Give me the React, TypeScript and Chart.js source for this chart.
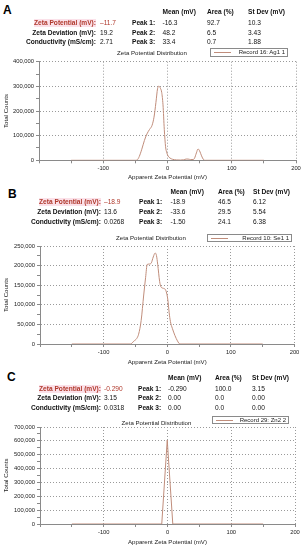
import React, { useEffect, useRef } from 'react';
import { Chart, registerables } from 'chart.js';

Chart.register(...registerables);

const FONT = '"Liberation Sans", Arial, Helvetica, sans-serif';
const LINE_COLOR = '#c08d7b';
const RED = '#b0392c';
const PINK = 'rgba(249, 205, 218, 0.6)';

// ---------- shared labels ----------
const TABLE_HEAD = ['Mean (mV)', 'Area (%)', 'St Dev (mV)'];
const ROW_LABELS = ['Zeta Potential (mV):', 'Zeta Deviation (mV):', 'Conductivity (mS/cm):'];
const PEAK_LABELS = ['Peak 1:', 'Peak 2:', 'Peak 3:'];
const CHART_TITLE = 'Zeta Potential Distribution';
const X_TITLE = 'Apparent Zeta Potential (mV)';
const Y_TITLE = 'Total Counts';
const X_MIN = -200;
const X_MAX = 200;
const X_STEP = 50;
const X_MAJOR = 100;

// ---------- panel A ----------
const A_SUMMARY = ['\u201311.7', '19.2', '2.71'];
const A_MEAN = ['-16.3', '48.2', '33.4'];
const A_AREA = ['92.7', '6.5', '0.7'];
const A_SD = ['10.3', '3.43', '1.88'];
const A_RECORD = 'Record 16: Ag1 1';
const A_MV = [-150, -50, -47, -44, -40, -36, -32, -28, -24, -21, -18, -15.5, -13.5, -11, -9, -7, -5, -3, -1, 1, 4, 8, 14, 20, 25, 29, 32, 36, 40, 42, 45, 47.5, 50, 53, 56, 59, 150];
const A_COUNTS = [0, 0, 2000, 15000, 45000, 80000, 107000, 125000, 142000, 175000, 235000, 290000, 301000, 292000, 275000, 225000, 125000, 55000, 30000, 17000, 9000, 4000, 1500, 1000, 2000, 5000, 5000, 3000, 3000, 8000, 30000, 46000, 38000, 18000, 3000, 0, 0];
const A_Y_MAX = 400000;
const A_Y_STEP = 50000;
const A_Y_MAJOR = 100000;

// ---------- panel B ----------
const B_SUMMARY = ['\u201318.9', '13.6', '0.0268'];
const B_MEAN = ['-18.9', '-33.6', '-1.50'];
const B_AREA = ['46.5', '29.5', '24.1'];
const B_SD = ['6.12', '5.54', '6.38'];
const B_RECORD = 'Record 10: Se1 1';
const B_MV = [-150, -58, -52, -48, -45, -41, -37, -34, -31.5, -28, -25, -22, -19, -17, -15, -12, -10, -6, -3, -1, 1, 3, 5, 8, 12, 16, 20, 150];
const B_COUNTS = [0, 0, 8000, 14000, 25000, 60000, 125000, 170000, 203000, 204000, 207000, 222000, 232000, 226000, 203000, 160000, 146000, 142000, 139000, 130000, 112000, 80000, 57000, 40000, 22000, 8000, 0, 0];
const B_Y_MAX = 250000;
const B_Y_STEP = 25000;
const B_Y_MAJOR = 50000;

// ---------- panel C ----------
const C_SUMMARY = ['-0.290', '3.15', '0.0318'];
const C_MEAN = ['-0.290', '0.00', '0.00'];
const C_AREA = ['100.0', '0.0', '0.0'];
const C_SD = ['3.15', '0.00', '0.00'];
const C_RECORD = 'Record 29: Zn2 2';
const C_MV = [-150, -9, -0.4, 8.3, 150];
const C_COUNTS = [0, 0, 606000, 0, 0];
const C_Y_MAX = 700000;
const C_Y_STEP = 50000;
const C_Y_MAJOR = 100000;

type Layout = {
  letter: string;
  letterX: number;
  letterY: number;
  rowY: number[];
  labelRight: number;
  valueX: number;
  peakX: number;
  colX: number[];
  titleX: number;
  titleY: number;
  legend: { x: number; y: number; w: number; h: number };
  canvasTop: number;
  canvasHeight: number;
  plotTop: number;
  plotBottom: number;
  plotLeft: number;
  plotRight: number;
  xTitlePad: number;
  smooth: boolean;
};

type PanelData = {
  summary: string[];
  mean: string[];
  area: string[];
  sd: string[];
  record: string;
  mv: number[];
  counts: number[];
  yMax: number;
  yStep: number;
  yMajor: number;
};

const LAYOUT_A: Layout = {
  letter: 'A', letterX: 3, letterY: 10,
  rowY: [11.7, 22.7, 32.5, 41.7],
  labelRight: 96, valueX: 100, peakX: 132, colX: [162.5, 207, 248],
  titleX: 152, titleY: 53,
  legend: { x: 210, y: 48, w: 78, h: 9 },
  canvasTop: 56, canvasHeight: 126,
  plotTop: 61.7, plotBottom: 160.3, plotLeft: 39, plotRight: 296,
  xTitlePad: 1.4, smooth: true,
};

const LAYOUT_B: Layout = {
  letter: 'B', letterX: 8, letterY: 194,
  rowY: [192.3, 202.3, 212.3, 221.7],
  labelRight: 101, valueX: 104, peakX: 139, colX: [170.5, 218, 253],
  titleX: 151, titleY: 238,
  legend: { x: 207, y: 233.5, w: 85, h: 8 },
  canvasTop: 240, canvasHeight: 127,
  plotTop: 246, plotBottom: 344, plotLeft: 40, plotRight: 294.5,
  xTitlePad: 1.4, smooth: true,
};

const LAYOUT_C: Layout = {
  letter: 'C', letterX: 7, letterY: 377,
  rowY: [377.7, 389, 398.3, 407.7],
  labelRight: 101, valueX: 104, peakX: 138, colX: [168, 215, 252],
  titleX: 156.5, titleY: 423,
  legend: { x: 212, y: 415.5, w: 77, h: 8 },
  canvasTop: 421, canvasHeight: 127,
  plotTop: 427, plotBottom: 524, plotLeft: 40, plotRight: 295,
  xTitlePad: 2.4, smooth: false,
};

const DATA_A: PanelData = { summary: A_SUMMARY, mean: A_MEAN, area: A_AREA, sd: A_SD, record: A_RECORD, mv: A_MV, counts: A_COUNTS, yMax: A_Y_MAX, yStep: A_Y_STEP, yMajor: A_Y_MAJOR };
const DATA_B: PanelData = { summary: B_SUMMARY, mean: B_MEAN, area: B_AREA, sd: B_SD, record: B_RECORD, mv: B_MV, counts: B_COUNTS, yMax: B_Y_MAX, yStep: B_Y_STEP, yMajor: B_Y_MAJOR };
const DATA_C: PanelData = { summary: C_SUMMARY, mean: C_MEAN, area: C_AREA, sd: C_SD, record: C_RECORD, mv: C_MV, counts: C_COUNTS, yMax: C_Y_MAX, yStep: C_Y_STEP, yMajor: C_Y_MAJOR };

const W = 306;

function Txt(props: {
  x: number; y: number; children: React.ReactNode; bold?: boolean; align?: 'left' | 'right' | 'center';
  color?: string; size?: number; bg?: string;
}) {
  const { x, y, children, bold, align = 'left', color = '#111', size = 6.6, bg } = props;
  const style: React.CSSProperties = {
    position: 'absolute',
    top: y - 4,
    lineHeight: '8px',
    height: 8,
    fontSize: size,
    fontWeight: bold ? 700 : 400,
    color,
    whiteSpace: 'nowrap',
    background: bg,
  };
  if (align === 'left') style.left = x;
  else if (align === 'right') style.right = W - x;
  else {
    style.left = x - 100;
    style.width = 200;
    style.textAlign = 'center';
  }
  return <div style={style}>{children}</div>;
}

function ZetaChart({ L, D }: { L: Layout; D: PanelData }) {
  const ref = useRef<HTMLCanvasElement>(null);
  useEffect(() => {
    const canvas = ref.current;
    if (!canvas) return;
    const tickFont = { family: FONT, size: 5.8 };
    const titleFont = { family: FONT, size: 6.1 };
    const points = D.mv.map((x, i) => ({ x, y: D.counts[i] }));
    const chart = new Chart(canvas, {
      type: 'line',
      data: {
        datasets: [
          {
            data: points,
            borderColor: LINE_COLOR,
            borderWidth: 1,
            pointRadius: 0,
            fill: false,
            tension: L.smooth ? 0.4 : 0,
            cubicInterpolationMode: L.smooth ? 'monotone' : 'default',
          } as any,
        ],
      },
      options: {
        animation: false,
        responsive: false,
        devicePixelRatio: 1,
        plugins: { legend: { display: false }, tooltip: { enabled: false }, title: { display: false } },
        layout: {
          padding: { top: L.plotTop - L.canvasTop, right: W - L.plotRight, left: 0, bottom: 0 },
        },
        scales: {
          x: {
            type: 'linear',
            min: X_MIN,
            max: X_MAX,
            afterFit: (s: any) => {
              s.height = L.canvasTop + L.canvasHeight - L.plotBottom;
            },
            ticks: {
              stepSize: X_STEP,
              autoSkip: false,
              maxRotation: 0,
              minRotation: 0,
              padding: 2,
              font: tickFont,
              color: '#222',
              callback: (v: any) => (v % X_MAJOR === 0 && v !== X_MIN ? String(v) : ''),
            },
            grid: {
              color: (c: any) =>
                c.tick && c.tick.value % X_MAJOR === 0 && c.tick.value !== X_MIN ? '#9a9a9a' : 'rgba(0,0,0,0)',
              tickColor: '#8a8a8a',
              tickLength: 3,
              lineWidth: 1,
            },
            border: { color: '#8a8a8a', width: 1, dash: [1, 2] },
            title: {
              display: true,
              text: X_TITLE,
              font: titleFont,
              color: '#222',
              padding: { top: 0, bottom: L.xTitlePad },
            },
          },
          y: {
            type: 'linear',
            min: 0,
            max: D.yMax,
            afterFit: (s: any) => {
              s.width = L.plotLeft;
            },
            ticks: {
              stepSize: D.yStep,
              autoSkip: false,
              padding: 2,
              font: tickFont,
              color: '#222',
              callback: (v: any) => (v % D.yMajor === 0 ? Number(v).toLocaleString('en-US') : ''),
            },
            grid: {
              color: (c: any) =>
                c.tick && c.tick.value % D.yMajor === 0 && c.tick.value !== 0 ? '#9a9a9a' : 'rgba(0,0,0,0)',
              tickColor: '#8a8a8a',
              tickLength: 3,
              lineWidth: 1,
            },
            border: { color: '#8a8a8a', width: 1, dash: [1, 2] },
            title: {
              display: true,
              text: Y_TITLE,
              font: titleFont,
              color: '#222',
              padding: { top: 3, bottom: 0 },
            },
          },
        },
      } as any,
    });
    return () => chart.destroy();
  }, [L, D]);
  return (
    <canvas
      ref={ref}
      width={W}
      height={L.canvasHeight}
      style={{ position: 'absolute', left: 0, top: L.canvasTop, width: W, height: L.canvasHeight }}
    />
  );
}

function Panel({ L, D }: { L: Layout; D: PanelData }) {
  return (
    <>
      <ZetaChart L={L} D={D} />
      <Txt x={L.letterX} y={L.letterY} size={12} bold color="#000">
        {L.letter}
      </Txt>
      {TABLE_HEAD.map((h, i) => (
        <Txt key={'h' + i} x={L.colX[i]} y={L.rowY[0]} bold>
          {h}
        </Txt>
      ))}
      {ROW_LABELS.map((lab, i) => (
        <Txt
          key={'l' + i}
          x={L.labelRight}
          y={L.rowY[i + 1]}
          bold
          align="right"
          color={i === 0 ? RED : '#111'}
          bg={i === 0 ? PINK : undefined}
        >
          {lab}
        </Txt>
      ))}
      {D.summary.map((v, i) => (
        <Txt key={'s' + i} x={L.valueX} y={L.rowY[i + 1]} color={i === 0 ? RED : '#111'}>
          {v}
        </Txt>
      ))}
      {PEAK_LABELS.map((p, i) => (
        <Txt key={'p' + i} x={L.peakX} y={L.rowY[i + 1]} bold>
          {p}
        </Txt>
      ))}
      {[D.mean, D.area, D.sd].map((col, c) =>
        col.map((v, i) => (
          <Txt key={'c' + c + '-' + i} x={L.colX[c]} y={L.rowY[i + 1]}>
            {v}
          </Txt>
        ))
      )}
      <Txt x={L.titleX} y={L.titleY} align="center" size={6.1} color="#222">
        {CHART_TITLE}
      </Txt>
      <div
        style={{
          position: 'absolute',
          left: L.legend.x,
          top: L.legend.y,
          width: L.legend.w,
          height: L.legend.h,
          boxSizing: 'border-box',
          border: '1px solid #8a8a8a',
          background: '#fff',
        }}
      >
        <div
          style={{
            position: 'absolute',
            left: 3,
            top: Math.floor(L.legend.h / 2) - 1,
            width: 17,
            height: 0,
            borderTop: '1px solid ' + LINE_COLOR,
          }}
        />
        <div
          style={{
            position: 'absolute',
            right: 2,
            top: 0,
            lineHeight: L.legend.h - 2 + 'px',
            fontSize: 6,
            color: '#222',
            whiteSpace: 'nowrap',
          }}
        >
          {D.record}
        </div>
      </div>
    </>
  );
}

export default function App() {
  return (
    <div
      style={{
        position: 'fixed',
        left: 0,
        top: 0,
        width: W,
        height: 550,
        background: '#fff',
        fontFamily: FONT,
        overflow: 'hidden',
      }}
    >
      <Panel L={LAYOUT_A} D={DATA_A} />
      <Panel L={LAYOUT_B} D={DATA_B} />
      <Panel L={LAYOUT_C} D={DATA_C} />
    </div>
  );
}
